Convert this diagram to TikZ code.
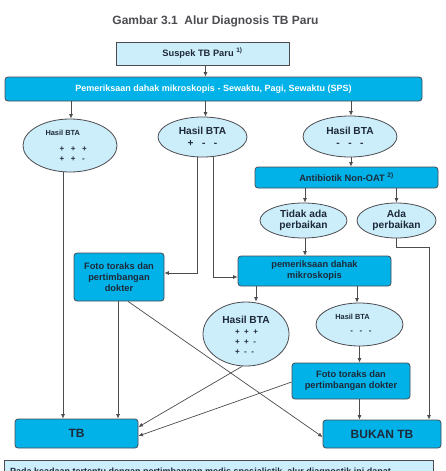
\documentclass[tikz,border=0pt]{standalone}
\usepackage{fontspec}
\setmainfont{Liberation Sans}
\usetikzlibrary{shapes.geometric,arrows.meta}
\definecolor{cyanbox}{RGB}{0,178,232}
\definecolor{lightbox}{RGB}{204,238,250}
\definecolor{edgegrey}{RGB}{75,75,80}
\definecolor{inktext}{RGB}{30,42,58}
\newcommand{\fs}[2]{\bfseries\fontsize{#1}{#2}\selectfont}
\tikzset{
  kotak/.style={draw=edgegrey, fill=cyanbox, rounded corners=3pt, line width=0.8pt,
    text=inktext, font=\fs{9.3}{11}, align=center, inner sep=0pt},
  kotakmuda/.style={draw=edgegrey, fill=lightbox, line width=0.8pt,
    text=inktext, font=\fs{9.3}{11}, align=center, inner sep=0pt},
  elips/.style={draw=edgegrey, fill=lightbox, ellipse, line width=0.8pt,
    text=inktext, font=\fs{10.2}{10.5}, align=center, inner sep=0pt},
  panah/.style={draw=edgegrey, line width=0.7pt, -{Latex[length=4.5pt,width=4pt]}},
}
\begin{document}
\begin{tikzpicture}[x=1pt, y=-1pt]
\useasboundingbox (0,0) rectangle (445,471);
\node[text=edgegrey, font=\fs{12}{14}] (Judul) at (215.5,21) {Gambar 3.1\ \ Alur Diagnosis TB Paru};
\node[kotakmuda, minimum width=173pt, minimum height=23pt] (Suspek) at (202.5,53.5) {Suspek TB Paru \textsuperscript{1)}};
\node[kotak, text=white, minimum width=417pt, minimum height=24pt, font=\fs{9}{11}] (SPS) at (213.5,89) {Pemeriksaan dahak mikroskopis - Sewaktu, Pagi, Sewaktu (SPS)};
\draw[panah] ([xshift=3pt]Suspek.south) -- ([xshift=3pt]Suspek.south |- SPS.north);
% hasil pemeriksaan pertama
\node[elips, minimum width=94pt, minimum height=53pt] (H_1) at (70,145.5) {};
\node[text=inktext, font=\fs{7.4}{9}, anchor=west] (H_1_t) at (42,133) {Hasil BTA};
\node[text=inktext, font=\fs{8}{10}, anchor=west, align=left] (H_1_p) at (56,154) {+\ \ \ +\ \ \ +\\+\ \ \ +\ \ \ -};
\node[elips, minimum width=89pt, minimum height=40pt, font=\fs{10.2}{12}] (H_2) at (202.5,137) {Hasil BTA\\+\ \ \ -\ \ \ -};
\node[elips, minimum width=94pt, minimum height=41pt, font=\fs{10.2}{12}] (H_3) at (350,136.5) {Hasil BTA\\-\ \ \ -\ \ \ -};
\draw[panah] ([xshift=1pt]H_1 |- SPS.south) -- ([xshift=1pt]H_1.north);
\draw[panah] ([xshift=3pt]H_2 |- SPS.south) -- ([xshift=3pt]H_2.north);
\draw[panah] ([xshift=1pt]H_3 |- SPS.south) -- ([xshift=1pt]H_3.north);
% antibiotik
\node[kotak, minimum width=183pt, minimum height=21pt] (Anti) at (346.5,177.5) {Antibiotik Non-OAT \textsuperscript{2)}};
\draw[panah] ([xshift=1pt]H_3.south) -- ([xshift=1pt]H_3.south |- Anti.north);
\node[elips, minimum width=87pt, minimum height=35pt] (Tidak) at (303.5,220.5) {Tidak ada\\perbaikan};
\node[elips, minimum width=79pt, minimum height=35pt] (Ada) at (396.5,220.5) {Ada\\perbaikan};
\draw[panah] ([xshift=1.5pt]Tidak |- Anti.south) -- ([xshift=1.5pt]Tidak.north);
\draw[panah] (Ada |- Anti.south) -- (Ada.north);
% pemeriksaan ulang
\node[kotak, minimum width=153pt, minimum height=30pt] (Periksa) at (314.5,271) {pemeriksaan dahak\\mikroskopis};
\node[kotak, minimum width=90pt, minimum height=48pt] (Foto_1) at (119,277) {Foto toraks dan\\pertimbangan\\dokter};
\draw[panah] ([xshift=1.5pt]Tidak.south) -- ([xshift=1.5pt]Tidak.south |- Periksa.north);
\draw[panah] ([xshift=-5.5pt]H_2.south) |- ([yshift=4pt]Foto_1.east);
\draw[panah] ([xshift=11pt]H_2.south) |- ([yshift=-6pt]Periksa.west);
\node[elips, minimum width=86pt, minimum height=64pt] (H_4) at (246,334) {};
\node[text=inktext, font=\fs{10.2}{12}] (H_4_t) at (246,320) {Hasil BTA};
\node[text=inktext, font=\fs{8}{10}, align=left] (H_4_p) at (246.5,342) {+\ \ +\ \ +\\+\ \ +\ \ -\\+\ \ -\ \ -};
\node[elips, minimum width=87pt, minimum height=43pt] (H_5) at (359.5,324.5) {};
\node[text=inktext, font=\fs{7.4}{9}] (H_5_t) at (352.5,317) {Hasil BTA};
\node[text=inktext, font=\fs{8}{10}] (H_5_p) at (361,332) {-\ \ \ -\ \ \ -};
\draw[panah] ([xshift=-58.5pt]Periksa.south) -- ([xshift=-58.5pt]Periksa.south |- H_4.north);
\draw[panah] ([xshift=42.5pt]Periksa.south) -- ([xshift=42.5pt]Periksa.south |- H_5.north);
\node[kotak, minimum width=118pt, minimum height=36pt] (Foto_2) at (351,381) {Foto toraks dan\\pertimbangan dokter};
\draw[panah] (H_5.south) -- (H_5.south |- Foto_2.north);
% kesimpulan
\node[kotak, minimum width=123pt, minimum height=29pt, font=\fs{12}{14}] (TB) at (76.5,433.5) {TB};
\node[kotak, minimum width=118pt, minimum height=28pt, font=\fs{12}{14}] (Bukan) at (382,434) {BUKAN TB};
\draw[panah] ([xshift=-7pt]H_1.south) -- ([xshift=-7pt]H_1.south |- TB.north);
\draw[panah] ([xshift=-1pt]Foto_1.south) -- ([xshift=-1pt]Foto_1.south |- TB.north);
\draw[panah] ([xshift=9pt]Foto_1.south) -- ([yshift=-3pt]Bukan.west);
\draw[panah] ([xshift=-4pt]H_4.south) -- ([yshift=6.5pt]TB.east);
\draw[panah] ([yshift=-1pt]Foto_2.west) -- ([yshift=-2.5pt]TB.east);
\draw[panah] (H_5 |- Foto_2.south) -- (H_5 |- Bukan.north);
\draw[panah] (Ada.south) -- ++(0,9) -| ([xshift=47pt]Bukan.north);
% catatan
\node[kotakmuda, minimum width=429pt, minimum height=40pt, anchor=north west] (Catatan) at (4,460) {};
\node[text=inktext, font=\fs{9}{11}, anchor=base west, inner sep=0pt] (Catatan_t) at (10,474.5) {Pada keadaan tertentu dengan pertimbangan medis spesialistik, alur diagnostik ini dapat};
\end{tikzpicture}
\end{document}
